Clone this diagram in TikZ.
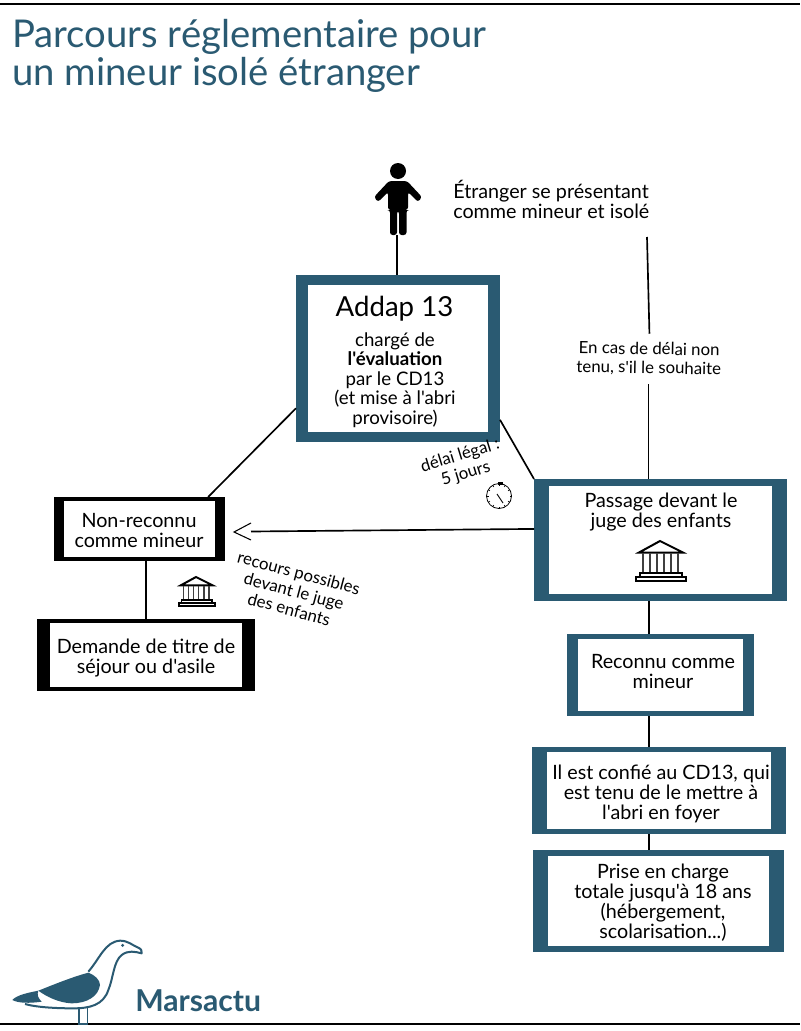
\documentclass[tikz,border=0pt]{standalone}
\usepackage{fontspec}
\setmainfont{Lato}[Ligatures=TeXOff]
\usetikzlibrary{positioning}
\definecolor{marsblue}{HTML}{2A5A72}

\begin{document}
\begin{tikzpicture}[x=0.75pt,y=-0.75pt]
    \tikzset{
      bluebox/.style={rectangle,fill=marsblue,inner sep=0pt,outer sep=0pt},
      blackbox/.style={rectangle,fill=black,inner sep=0pt,outer sep=0pt},
      whitebox/.style={rectangle,fill=white,inner sep=0pt,outer sep=0pt},
      txt/.style={align=center,inner sep=0pt,font=\fontsize{14.8}{15}\selectfont},
      smalltxt/.style={align=center,inner sep=0pt,font=\fontsize{12.6}{14.2}\selectfont},
      link/.style={line width=1.25pt,black},
      courthouse/.pic={
        \draw[line width=1.5pt,line join=miter] (-21,11.5) -- (0,0) -- (23,11.5) -- cycle;
        \foreach \colx in {-17,-10,-3,4,11,18}{
          \draw[line width=0.9pt,black!75] (\colx,12) -- (\colx,32);
        }
        \draw[line width=1.1pt] (-20,32) rectangle (22,36);
        \draw[line width=1.5pt] (-24,36) rectangle (26,40);
      }
    }
    \path[use as bounding box] (0,0) rectangle (800,1031);
    \fill[white] (0,0) rectangle (800,1031);
    \coordinate (topl) at (0,4);
    \coordinate (topr) at (800,4);
    \coordinate (botl) at (0,1024);
    \coordinate (botr) at (800,1024);
    \draw[line width=1.5pt] (topl) -- (topr);
    \draw[line width=1.5pt] (botl) -- (botr);

    \node[inner sep=0pt,align=left,anchor=west,text=marsblue,font=\fontsize{28.7}{29}\selectfont] (title) at (12,56) {Parcours réglementaire pour\\un mineur isolé étranger};

    % boxes
    \node[bluebox,minimum width=153pt,minimum height=125.25pt] (addap) at (398,358.5) {};
    \node[whitebox,minimum width=135pt,minimum height=110.25pt] (addapin) at (addap.center) {};
    \node[bluebox,minimum width=189.75pt,minimum height=91.5pt] (passage) at (660.5,540) {};
    \node[whitebox,minimum width=167.25pt,minimum height=81pt] (passagein) at (passage.center) {};
    \node[blackbox,minimum width=128.25pt,minimum height=48pt] (nonreconnu) at (139.5,529) {};
    \node[whitebox,minimum width=113.25pt,minimum height=42pt] (nonreconnuin) at (nonreconnu.center) {};
    \node[blackbox,minimum width=163.5pt,minimum height=54pt] (demande) at (146,655) {};
    \node[whitebox,minimum width=144pt,minimum height=48pt] (demandein) at (demande.center) {};
    \node[bluebox,minimum width=140.25pt,minimum height=61.5pt] (reconnu) at (660.5,675) {};
    \node[whitebox,minimum width=123.75pt,minimum height=54pt] (reconnuin) at (reconnu.center) {};
    \node[bluebox,minimum width=190.5pt,minimum height=65.25pt] (confie) at (659,790.5) {};
    \node[whitebox,minimum width=168pt,minimum height=57.75pt] (confiein) at (confie.center) {};
    \node[bluebox,minimum width=188.25pt,minimum height=76.5pt] (prise) at (658.5,901) {};
    \node[whitebox,minimum width=165.75pt,minimum height=67.5pt] (prisein) at (prise.center) {};

    % box texts
    \node[inner sep=0pt,font=\fontsize{20.7}{24}\selectfont] (addaptitle) at (394.5,309) {Addap 13};
    \node[txt,font=\fontsize{14}{14.6}\selectfont] (addaptxt) at (395,380) {chargé de\\\textbf{l'évaluation}\\par le CD13\\(et mise à l'abri\\provisoire)};
    \node[txt] (passagetxt) at (661,512) {Passage devant le\\juge des enfants};
    \node[txt] (nonreconnutxt) at (139,531) {Non-reconnu\\comme mineur};
    \node[txt] (demandetxt) at (146,658) {Demande de titre de\\séjour ou d'asile};
    \node[txt] (reconnutxt) at (663,672) {Reconnu comme\\mineur};
    \node[txt] (confietxt) at (661,794) {Il est confié au CD13, qui\\est tenu de le mettre à\\l'abri en foyer};
    \node[txt] (prisetxt) at (663,903) {Prise en charge\\totale jusqu'à 18 ans\\(hébergement,\\scolarisation...)};

    % free texts
    \node[txt,align=left,anchor=west] (etranger) at (453,199) {Étranger se présentant\\comme mineur et isolé};
    \node[smalltxt,rotate=-1,minimum height=37.5pt] (delai) at (649,359) {En cas de délai non\\tenu, s'il le souhaite};
    \node[smalltxt,rotate=17] (legal) at (463,465) {délai légal :\\5 jours};
    \node[smalltxt,rotate=-15] (recours) at (294,591) {recours possibles\\devant le juge\\des enfants};
    \node[inner sep=0pt,anchor=west,text=marsblue,font=\fontsize{22.6}{24}\bfseries\selectfont] (marsactu) at (135,1001) {Marsactu};

    % person
    \fill (398,171) circle[radius=8];
    \fill[rounded corners=2pt] (389,181) -- (407,181) -- (422,197) -- (418,202) -- (408,192) -- (408,210) -- (406.5,210) -- (406.5,235) -- (399,235) -- (399,211) -- (397,211) -- (397,235) -- (390,235) -- (390,210) -- (388,210) -- (388,192) -- (378,202) -- (374,197) -- cycle;
    \coordinate (person) at (397,235);

    % connectors
    \coordinate (delaistart) at (647,237);
    \coordinate (arrowend) at (251,531.5);
    \coordinate (tipup) at (251,523);
    \coordinate (tip) at (234,532);
    \coordinate (tipdown) at (251,540);
    \coordinate (spine) at (649,0);
    \draw[link,line width=1.4pt] (person) -- (person |- addap.north);
    \draw[link] (delaistart) -- (delai.north);
    \draw[link] (delai.south) -- (passage.north -| delai.south);
    \draw[link] (addap.206) -- (nonreconnu.25.4);
    \draw[link] (addap.-31) -- (passage.north west);
    \draw[link] (passage.175.26) -- (arrowend);
    \draw[line width=0.8pt] (tipup) -- (tip) -- (tipdown);
    \draw[link] (nonreconnu.south -| demande.north) -- (demande.north);
    \draw[link] (spine |- passage.south) -- (spine |- reconnu.north);
    \draw[link] (spine |- reconnu.south) -- (spine |- confie.north);
    \draw[link] (spine |- confie.south) -- (spine |- prise.north);

    % icons
    \pic at (660,541) {courthouse};
    \pic[scale=0.72] at (196,577) {courthouse};
    \draw[line width=0.6pt] (499,496) circle[radius=12.5];
    \foreach \tick in {0,30,...,330}{
      \draw[line width=0.5pt] (499,496) ++(\tick:12.5) -- ++(\tick+180:2);
    }
    \draw[line width=0.7pt] (497,494) -- (503,503);
    \fill (498,482) rectangle (503,485);

    % gull
    \begin{scope}[shift={(0,920)},x=0.25pt,y=-0.25pt]
      \fill[marsblue] (115,212) .. controls (170,190) and (220,170) .. (265,158) .. controls (285,165) and (300,180) .. (300,195) .. controls (295,230) and (260,250) .. (215,250) .. controls (175,248) and (140,230) .. (115,212) -- cycle;
      \fill[marsblue] (37,240) .. controls (50,225) and (85,218) .. (115,212) .. controls (110,225) and (115,235) .. (125,245) .. controls (90,250) and (55,250) .. (37,240) -- cycle;
      \draw[marsblue,line width=1.5pt,line join=round] (265,155) .. controls (300,115) and (315,65) .. (360,62) .. controls (385,62) and (395,75) .. (415,83) .. controls (425,87) and (426,95) .. (425,100) .. controls (405,95) and (385,90) .. (365,105) .. controls (340,125) and (340,175) .. (325,210) .. controls (310,255) and (270,265) .. (220,265) .. controls (170,265) and (110,262) .. (75,252);
      \fill[marsblue] (368,76) circle[radius=5];
      \draw[marsblue,line width=1.1pt] (237,265) -- (237,312) -- (262,312) -- (262,265);
    \end{scope}
\end{tikzpicture}
\end{document}
